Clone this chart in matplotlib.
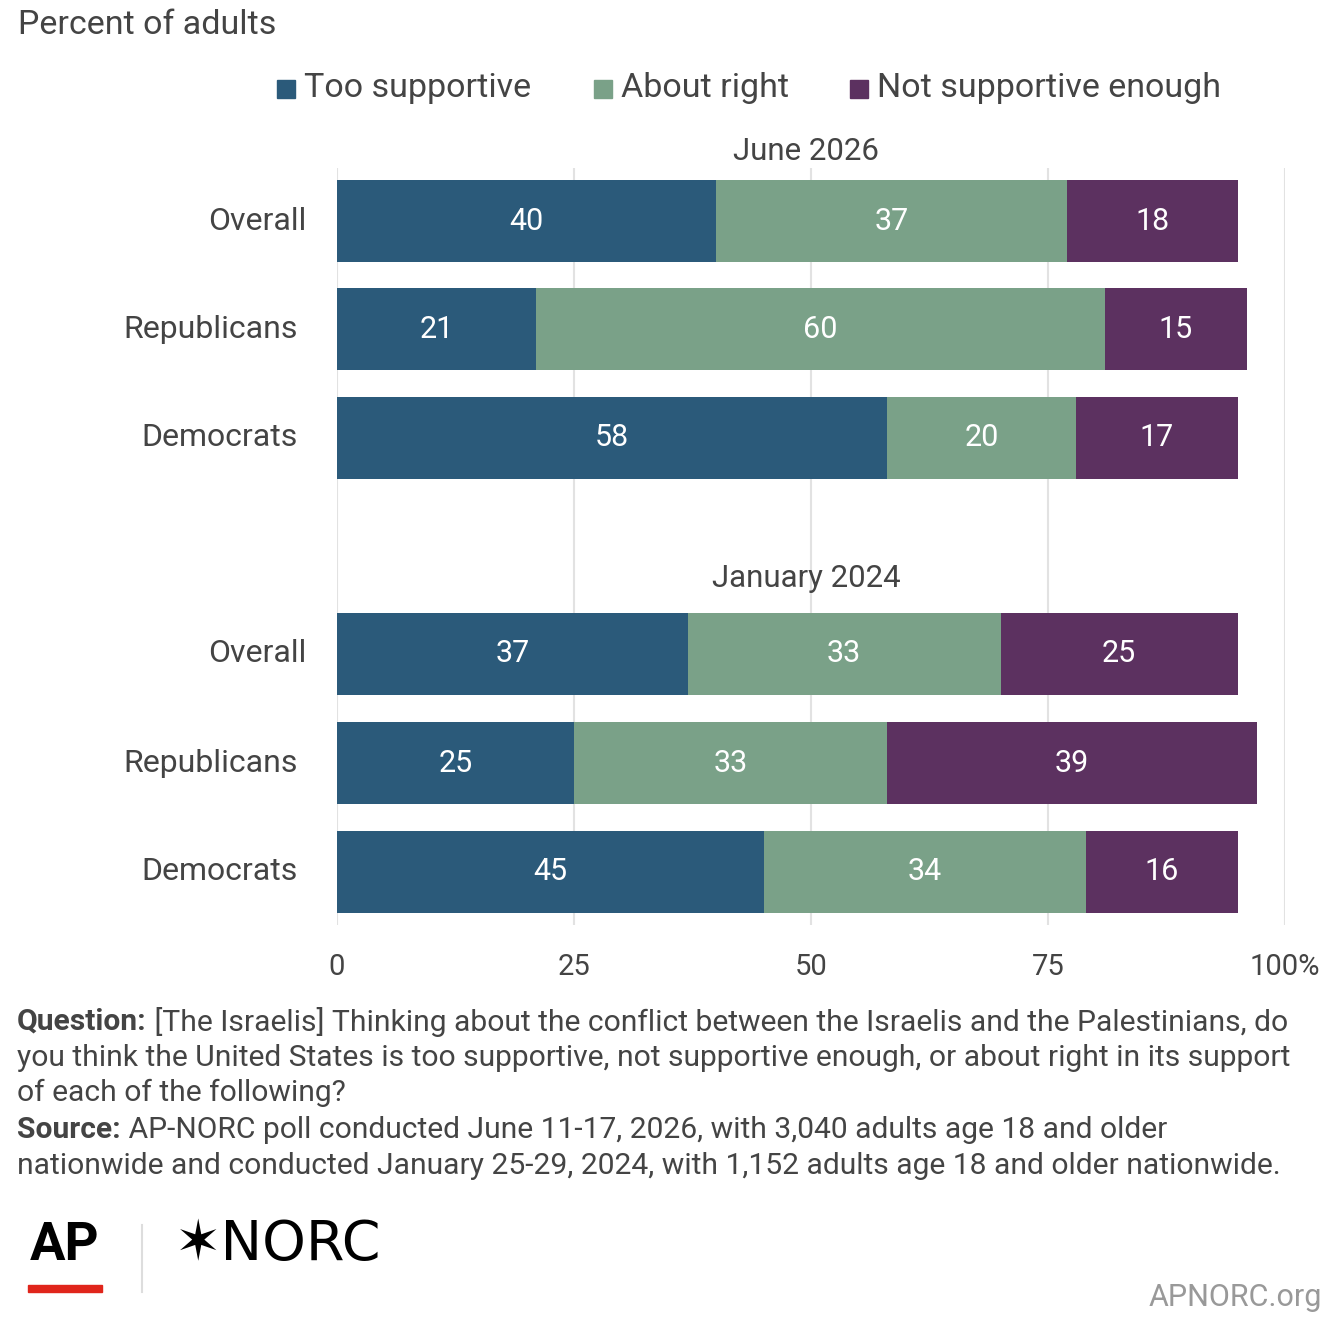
import matplotlib
matplotlib.use("Agg")
import matplotlib.pyplot as plt
import numpy as np

plt.rcParams['font.family'] = ['Roboto', 'DejaVu Sans']

groups = ["June 2026", "January 2024"]
rows = ["Overall", "Republicans", "Democrats"]
too = [[40, 21, 58], [37, 25, 45]]
right = [[37, 60, 20], [33, 33, 34]]
notenough = [[18, 15, 17], [25, 39, 16]]
series = ["Too supportive", "About right", "Not supportive enough"]
colors = ["#2b5a7a", "#7aa188", "#5c3160"]
ticks = [0, 25, 50, 75, 100]
ticklabels = ["0", "25", "50", "75", "100%"]

W, H = 1342, 1330
fig = plt.figure(figsize=(W / 100, H / 100), dpi=100)
top, bot = 168, 925
ax = fig.add_axes([337 / W, 1 - bot / H, (1285 - 337) / W, (bot - top) / H])
ax.set_xlim(0, 100)
ax.set_ylim(bot, top)  # pixel-like y units

txt = "#444444"
# bar centres in pixel-like units
centers = [[221, 329, 438], [654, 763, 872]]
headers = [151, 579]
for g in range(2):
    left = np.zeros(3)
    for vals, col in zip([too[g], right[g], notenough[g]], colors):
        v = np.array(vals, float)
        ax.barh(centers[g], v, left=left, height=82, color=col, zorder=3)
        for c, l, x in zip(centers[g], left, v):
            ax.text(l + x / 2, c, f"{int(x)}", ha="center", va="center",
                    color="white", fontsize=22, zorder=4)
        left += v
    for c, r in zip(centers[g], rows):
        fig.text(306 / W if r == "Overall" else 298 / W, 1 - c / H, r, ha="right",
                 va="center", fontsize=23, color=txt)
    fig.text(806 / W, 1 - headers[g] / H, groups[g], ha="center", va="center",
             fontsize=22.5, color=txt)

for t in ticks:
    ax.axvline(t, color="#e2e2e2", lw=1.5, zorder=1)
ax.set_xticks(ticks)
ax.set_xticklabels(ticklabels, fontsize=21, color=txt)
ax.tick_params(length=0, pad=20)
ax.set_yticks([])
for s in ax.spines.values():
    s.set_visible(False)

fig.text(18 / W, 1 - 25 / H, "Percent of adults", fontsize=24.5, color=txt, va="center")
legx = [277, 594, 850]
for x, lab, col in zip(legx, series, colors):
    fig.patches.append(plt.Rectangle((x / W, 1 - 98 / H), 18 / W, 18 / H,
                                     transform=fig.transFigure, color=col))
    fig.text((x + 27) / W, 1 - 88 / H, lab, fontsize=24.5, color=txt, va="center")

foot = [
    (1022, [("Question:", "bold"), (" [The Israelis] Thinking about the conflict between the Israelis and the Palestinians, do", "normal")]),
    (1058, [("you think the United States is too supportive, not supportive enough, or about right in its support", "normal")]),
    (1093, [("of each of the following?", "normal")]),
    (1130, [("Source:", "bold"), (" AP-NORC poll conducted June 11-17, 2026, with 3,040 adults age 18 and older", "normal")]),
    (1166, [("nationwide and conducted January 25-29, 2024, with 1,152 adults age 18 and older nationwide.", "normal")]),
]
fig.canvas.draw()
r = fig.canvas.get_renderer()
for y, parts in foot:
    x = 17 / W
    for s, w in parts:
        t = fig.text(x, 1 - y / H, s, fontsize=21.6, color=txt, weight=w, va="center")
        bb = t.get_window_extent(r)
        x += bb.width / W

fig.text(30 / W, 1 - 1245 / H, "AP", fontsize=38, weight="bold", color="black", va="center")
fig.patches.append(plt.Rectangle((28 / W, 1 - 1292 / H), 74 / W, 7 / H,
                                 transform=fig.transFigure, color="#e0251b"))
fig.lines.append(plt.Line2D([142 / W, 142 / W], [1 - 1225 / H, 1 - 1292 / H],
                            transform=fig.transFigure, color="#dddddd", lw=1.5))
fig.text(175 / W, 1 - 1245 / H, "✶NORC", fontsize=40, color="black", va="center",
         family=["DejaVu Sans"])
fig.text(1322 / W, 1 - 1297 / H, "APNORC.org", fontsize=22, color="#999999",
         ha="right", va="center")

fig.savefig("out.png", dpi=100, facecolor="white")
